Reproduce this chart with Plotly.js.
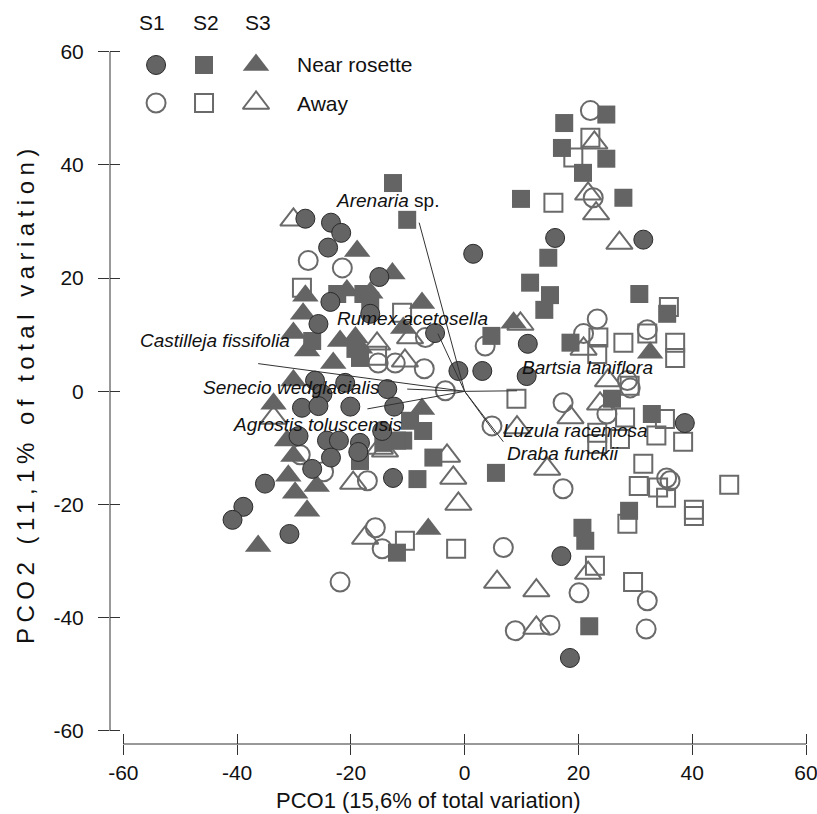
<!DOCTYPE html>
<html>
<head>
<meta charset="utf-8">
<script src="https://cdn.plot.ly/plotly-3.0.1.min.js"></script>
<style>
html,body{margin:0;padding:0;background:#fff;}
#chart{width:817px;height:814px;}
</style>
</head>
<body>
<div id="chart"></div>
<script>
// ---- Data ----
// S1 (circles), S2 (squares), S3 (triangles); Near rosette = filled, Away = open
const s1NearX = [15.9,1.5,31.4,11.1,-1.1,3.1,10.9,38.7,17.0,18.5,-5.2,-28.0,-23.5,-21.7,-24.0,-15.0,-23.6,-25.7,-16.6,-26.3,-21.0,-13.6,-25.0,-28.6,-25.7,-20.1,-12.4,-14.5,-29.2,-24.2,-22.1,-18.4,-18.7,-23.5,-26.8,-12.6,-35.1,-38.9,-40.8,-30.8];
const s1NearY = [27.1,24.3,26.8,8.4,3.6,3.6,2.7,-5.6,-29.1,-47.1,10.3,30.5,29.8,28.0,25.4,20.2,15.8,11.9,13.7,1.9,1.5,0.4,-0.5,-2.9,-2.6,-2.7,-2.7,-7.0,-7.9,-8.7,-8.7,-9.1,-10.7,-11.7,-13.7,-15.3,-16.3,-20.4,-22.7,-25.2];

const s1AwayX = [22.1,22.6,-27.5,-21.5,23.3,20.9,32.1,3.6,-6.9,-7.1,-15.2,-12.2,-3.4,28.6,29.1,25.0,17.3,4.8,17.3,35.5,36.1,6.8,20.1,32.1,8.9,15.0,31.9,-21.9,-14.5,-15.7,-17.1,-24.8,-28.9];
const s1AwayY = [49.6,34.2,23.1,21.8,12.8,10.2,10.9,8.0,9.5,4.0,5.0,5.0,0.1,1.9,0.6,-4.0,-2.0,-6.1,-17.2,-15.3,-15.8,-27.6,-35.6,-37.0,-42.3,-41.3,-42.0,-33.7,-27.8,-24.1,-15.8,-14.2,-11.2];

const s2NearX = [24.9,17.5,17.1,24.9,20.8,9.9,27.9,-12.6,-10.1,14.7,11.5,15.0,14.0,30.7,35.6,4.7,18.6,25.9,32.9,28.9,20.7,21.2,21.9,5.5,-5.5,-8.3,-7.3,-10.8,-11.9,-22.4,-17.8,-16.6,-26.8,-19.2,-18.4,-18.4,-14.3,-11.9,-9.6];
const s2NearY = [48.9,47.4,43.0,41.1,38.6,34.0,34.2,36.8,30.3,23.6,19.2,17.0,14.4,17.2,13.7,9.8,8.6,-1.3,-4.0,-21.1,-24.1,-26.4,-41.5,-14.4,-11.7,-15.5,-7.0,-8.7,-28.5,17.2,17.2,16.0,8.9,7.5,5.9,-12.3,-9.1,-8.7,-5.2];

const s2AwayX = [22.1,19.1,15.6,35.9,23.5,23.3,27.9,32.1,37.0,37.0,9.1,29.0,28.2,35.2,23.3,23.3,27.3,33.7,38.4,31.4,30.6,34.0,35.4,46.5,40.3,40.3,28.6,22.9,29.6,-1.5,-10.5,-28.6,-11.0,-15.4];
const s2AwayY = [44.8,41.3,33.3,14.9,9.5,6.6,8.6,10.2,8.6,5.9,-1.3,1.0,-4.6,-4.9,-7.3,-9.3,-8.4,-7.8,-8.9,-12.8,-16.7,-17.0,-18.8,-16.5,-20.9,-22.0,-23.4,-30.8,-33.7,-27.8,-26.4,18.3,13.9,6.3];

const s3NearX = [32.6,8.6,-7.5,-7.5,-6.4,-36.3,-18.9,-12.7,-28.0,-20.7,-16.6,-28.4,-10.8,-30.1,-27.7,-21.9,-19.2,-18.4,-23.1,-30.1,-33.6,-31.2,-30.1,-31.0,-29.8,-27.7,-26.0];
const s3NearY = [6.8,12.1,15.6,-3.1,-24.3,-27.3,24.8,20.8,16.9,17.8,17.4,13.7,11.2,10.3,7.2,8.9,9.5,7.7,5.0,1.9,-2.2,-8.7,-11.4,-14.9,-17.9,-21.1,-16.7];

const s3AwayX = [22.8,21.7,23.1,27.2,9.8,20.9,25.2,23.8,9.2,18.6,14.5,5.7,12.6,12.6,21.7,-3.1,-2.0,-1.1,-17.5,-19.6,-30.1,-9.6,-15.4,-10.5,-33.6,-14.9,-14.0];
const s3AwayY = [43.9,34.9,31.4,26.2,11.9,7.5,1.9,-2.2,-6.4,-4.6,-13.7,-33.7,-35.2,-41.8,-32.1,-11.4,-15.3,-19.9,-25.9,-16.2,30.3,9.5,8.4,5.4,-4.7,-10.0,-10.5];

// Species vectors (end points) and their label positions
const species = ['<i>Arenaria</i> sp.','<i>Rumex acetosella</i>','<i>Castilleja fissifolia</i>','<i>Senecio wedglacialis</i>','<i>Agrostis toluscensis</i>','<i>Bartsia laniflora</i>','<i>Luzula racemosa</i>','<i>Draba funckii</i>'];
const vecX = [-8.0,-4.7,-36.3,-10.1,-17.1,9.2,5.4,6.8];
const vecY = [29.8,10.2,4.9,0.4,-3.1,0.1,-7.5,-8.9];
const labX = [-13.5,-9.1,-43.8,-30.5,-25.9,21.6,19.5,17.2];
const labY = [33.8,12.8,8.9,0.6,-5.9,4.2,-7.0,-11.0];

// Axis ticks
const tickVals = [-60,-40,-20,0,20,40,60];
const tickLabels = ['-60','-40','-20','0','20','40','60'];

// Legend
const siteNames = ['S1','S2','S3'];
const treatNames = ['Near rosette','Away'];

// ---- Styling ----
const FONT = 'Liberation Sans, Arial, sans-serif';
const FILL = '#646464';
const OPEN = '#6a6a6a';

function filled(x, y, sym, size, line) {
  return {type:'scatter', mode:'markers', x:x, y:y, hoverinfo:'skip', showlegend:false,
    marker:{symbol:sym, size:size, color:FILL, line:line}};
}
function open(x, y, sym, size) {
  return {type:'scatter', mode:'markers', x:x, y:y, hoverinfo:'skip', showlegend:false,
    marker:{symbol:sym+'-open', size:size, color:OPEN, line:{width:2, color:OPEN}}};
}

const SZ_C = 19, SZ_S = 18, SZ_T = 23;

// vector lines
const vx = [], vy = [];
for (let i = 0; i < vecX.length; i++) { vx.push(0, vecX[i], null); vy.push(0, vecY[i], null); }

const traces = [
  open(s1AwayX, s1AwayY, 'circle', SZ_C),
  open(s2AwayX, s2AwayY, 'square', SZ_S),
  open(s3AwayX, s3AwayY, 'triangle-up', SZ_T),
  filled(s3NearX, s3NearY, 'triangle-up', SZ_T, {width:0}),
  filled(s2NearX, s2NearY, 'square', SZ_S, {width:0}),
  filled(s1NearX, s1NearY, 'circle', SZ_C, {width:1, color:'#2a2a2a'}),
  {type:'scatter', mode:'lines', x:vx, y:vy, xaxis:'x2', yaxis:'y2', hoverinfo:'skip', showlegend:false,
    line:{color:'#333', width:1}}
];

// Legend keys (paper-like overlay axis)
const legKeyX = [0.066, 0.1347, 0.2092];
const legRowY = [0.977, 0.9223];
const legSyms = ['circle','square','triangle-up'];
const legSizes = [SZ_C, SZ_S, SZ_T];
for (let r = 0; r < 2; r++) {
  for (let c = 0; c < 3; c++) {
    const t = r === 0 ? filled([legKeyX[c]], [legRowY[r]], legSyms[c], legSizes[c], c === 0 ? {width:1,color:'#2a2a2a'} : {width:0})
                      : open([legKeyX[c]], [legRowY[r]], legSyms[c], legSizes[c]);
    t.xaxis = 'x3'; t.yaxis = 'y3'; t.cliponaxis = false;
    traces.push(t);
  }
}

const XR = [-62.34, 60.35], YR = [-62.30, 60.48];

const annotations = [];
for (let i = 0; i < species.length; i++) {
  annotations.push({x:labX[i], y:labY[i], xref:'x', yref:'y', text:species[i], showarrow:false,
    xanchor:'center', yanchor:'middle', font:{family:FONT, size:19, color:'#111'}});
}
const siteX = [0.0602, 0.1375, 0.2120];
for (let c = 0; c < 3; c++) {
  annotations.push({x:siteX[c], y:1.0388, xref:'paper', yref:'paper', text:siteNames[c], showarrow:false,
    xanchor:'center', yanchor:'middle', font:{family:FONT, size:21, color:'#111'}});
}
for (let r = 0; r < 2; r++) {
  annotations.push({x:0.265, y:legRowY[r], xref:'paper', yref:'paper', text:treatNames[r], showarrow:false,
    xanchor:'left', yanchor:'middle', font:{family:FONT, size:21, color:'#111'}});
}
annotations.push({x:0.4556, y:-0.0806, xref:'paper', yref:'paper', text:'PCO1 (15,6% of total variation)',
  showarrow:false, xanchor:'center', yanchor:'middle', font:{family:FONT, size:22, color:'#111'}});
annotations.push({x:-0.1218, y:0.505, xref:'paper', yref:'paper', textangle:-90,
  text:'<span style="letter-spacing:5.5px">PCO2 (11,1% of total variation)</span>',
  showarrow:false, xanchor:'center', yanchor:'middle', font:{family:FONT, size:24, color:'#111'}});

const axisCommon = {showgrid:false, zeroline:false, showline:false, tickmode:'array',
  tickvals:tickVals, ticktext:tickLabels, tickcolor:'#333', tickwidth:1, fixedrange:true};

const layout = {
  width:817, height:814,
  margin:{l:110, r:9, t:49, b:70},
  paper_bgcolor:'#fff', plot_bgcolor:'rgba(0,0,0,0)',
  font:{family:FONT, size:21, color:'#111'},
  showlegend:false,
  xaxis:Object.assign({}, axisCommon, {range:XR, ticks:'outside', ticklen:10, ticklabeloverflow:'allow',
    tickfont:{family:FONT, size:21, color:'#111'}}),
  yaxis:Object.assign({}, axisCommon, {range:YR, ticks:'outside', ticklen:11, ticklabelstandoff:10, ticklabeloverflow:'allow',
    tickfont:{family:FONT, size:21, color:'#111'}}),
  xaxis2:Object.assign({}, axisCommon, {range:XR, overlaying:'x', anchor:'y2', ticks:'inside', ticklen:10, showticklabels:false}),
  yaxis2:Object.assign({}, axisCommon, {range:YR, overlaying:'y', anchor:'x2', ticks:'inside', ticklen:10, showticklabels:false}),
  xaxis3:{range:[0,1], overlaying:'x', anchor:'y3', visible:false, fixedrange:true},
  yaxis3:{range:[0,1], overlaying:'y', anchor:'x3', visible:false, fixedrange:true},
  shapes:[
    {type:'line', xref:'paper', yref:'y', x0:0, x1:0, y0:tickVals[0], y1:tickVals[tickVals.length-1], line:{color:'#333', width:1}},
    {type:'line', xref:'x', yref:'paper', x0:tickVals[0], x1:tickVals[tickVals.length-1], y0:0, y1:0, line:{color:'#333', width:1}}
  ],
  annotations:annotations
};

Plotly.newPlot('chart', traces, layout, {staticPlot:true, displayModeBar:false});
</script>
</body>
</html>
